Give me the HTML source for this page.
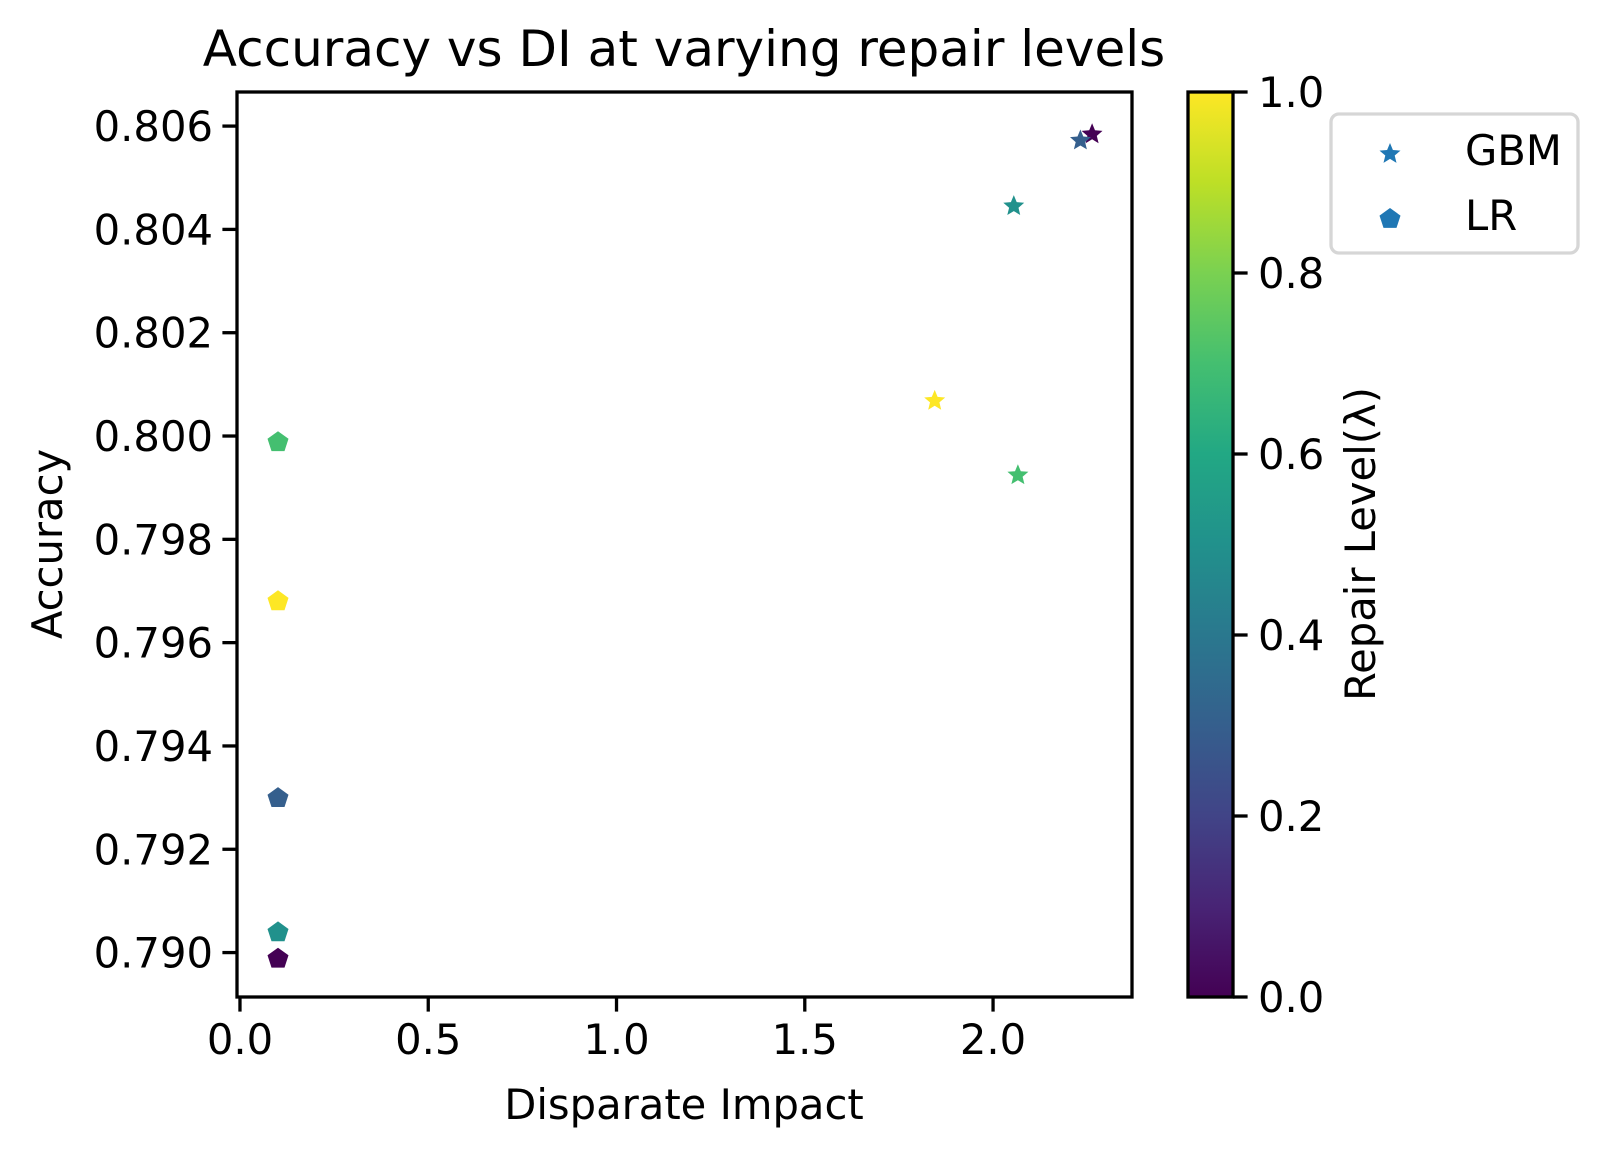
<!DOCTYPE html>
<html><head><meta charset="utf-8"><style>
html,body{margin:0;padding:0;background:#fff;}
svg{display:block;font-family:"DejaVu Sans","Liberation Sans",sans-serif;}
</style></head><body>
<svg id="chart" width="1606" height="1158" viewBox="0 0 1606 1158" xmlns="http://www.w3.org/2000/svg">
<defs>
<linearGradient id="vir" x1="0" y1="1" x2="0" y2="0">
<stop offset="0" stop-color="#440154"/><stop offset="0.1" stop-color="#482475"/><stop offset="0.2" stop-color="#414487"/><stop offset="0.3" stop-color="#355f8d"/><stop offset="0.4" stop-color="#2a788e"/><stop offset="0.5" stop-color="#21918c"/><stop offset="0.6" stop-color="#22a884"/><stop offset="0.7" stop-color="#44bf70"/><stop offset="0.8" stop-color="#7ad151"/><stop offset="0.9" stop-color="#bddf26"/><stop offset="1" stop-color="#fde725"/>
</linearGradient>
</defs>
<text x="684" y="66" font-size="50" text-anchor="middle">Accuracy vs DI at varying repair levels</text>
<g id="plot"></g>
<rect x="237" y="92" width="895" height="905" fill="none" stroke="#000" stroke-width="3.3"/>
<text x="684" y="1119" font-size="41.7" text-anchor="middle">Disparate Impact</text>
<text transform="translate(62,544) rotate(-90)" font-size="41.7" text-anchor="middle">Accuracy</text>
<rect x="1188" y="92" width="45" height="905" fill="url(#vir)" stroke="#000" stroke-width="3.3"/>
<g id="cbticks"></g>
<text transform="translate(1375,544) rotate(-90)" font-size="41.7" text-anchor="middle">Repair Level(λ)</text>
<g>
<rect x="1331" y="114" width="247" height="139" rx="8" fill="#fff" stroke="#d6d6d6" stroke-width="3.3"/>
<polygon id="lgstar" fill="#1f77b4"/>
<text x="1465" y="165" font-size="41.7">GBM</text>
<polygon id="lgpent" fill="#1f77b4"/>
<text x="1465" y="230" font-size="41.7">LR</text>
</g>
</svg>
<script>
const gbmDI = [2.263, 2.232, 2.055, 2.066, 1.845];
const gbmAcc = [0.80586, 0.80574, 0.80447, 0.79926, 0.80070];
const gbmLambda = [0, 0.3, 0.5, 0.7, 1.0];
const lrDI = [0.101, 0.101, 0.101, 0.101, 0.101];
const lrAcc = [0.78990, 0.79301, 0.79041, 0.79990, 0.79682];
const lrLambda = [0, 0.3, 0.5, 0.7, 1.0];
const xTicks = [0.0, 0.5, 1.0, 1.5, 2.0];
const xTickLabels = ["0.0", "0.5", "1.0", "1.5", "2.0"];
const yTicks = [0.790, 0.792, 0.794, 0.796, 0.798, 0.800, 0.802, 0.804, 0.806];
const yTickLabels = ["0.790", "0.792", "0.794", "0.796", "0.798", "0.800", "0.802", "0.804", "0.806"];
const cTicks = [0, 0.2, 0.4, 0.6, 0.8, 1.0];
const cTickLabels = ["0.0", "0.2", "0.4", "0.6", "0.8", "1.0"];

const NS = "http://www.w3.org/2000/svg";
const X0 = 237, X1 = 1132, Y0 = 92, Y1 = 997;
const xMin = -0.0079, xMax = 2.369, yMin = 0.78914, yMax = 0.80666;
function xs(v){ return X0 + (v - xMin) / (xMax - xMin) * (X1 - X0); }
function ys(v){ return Y1 - (v - yMin) / (yMax - yMin) * (Y1 - Y0); }
function cs(v){ return Y1 - v * (Y1 - Y0); }
const vstops = ["#440154","#482475","#414487","#355f8d","#2a788e","#21918c","#22a884","#44bf70","#7ad151","#bddf26","#fde725"];
function hex(c){ return [1,3,5].map(i=>parseInt(c.substr(i,2),16)); }
function viridis(t){
  t = Math.max(0, Math.min(1, t));
  const p = t * 10, i = Math.min(9, Math.floor(p)), f = p - i;
  const a = hex(vstops[i]), b = hex(vstops[i+1]);
  return "rgb(" + a.map((v,k)=>Math.round(v + (b[k]-v)*f)).join(",") + ")";
}
function starPts(cx, cy, R){
  const r = R * 0.45, pts = [];
  for (let k = 0; k < 10; k++){
    const ang = -Math.PI/2 + k * Math.PI/5, rr = k % 2 ? r : R;
    pts.push((cx + rr*Math.cos(ang)).toFixed(1) + "," + (cy + rr*Math.sin(ang)).toFixed(1));
  }
  return pts.join(" ");
}
function pentPts(cx, cy, R){
  const pts = [];
  for (let k = 0; k < 5; k++){
    const ang = -Math.PI/2 + k * 2*Math.PI/5;
    pts.push((cx + R*Math.cos(ang)).toFixed(1) + "," + (cy + R*Math.sin(ang)).toFixed(1));
  }
  return pts.join(" ");
}
const plot = document.getElementById("plot");
function add(parent, tag, attrs){
  const el = document.createElementNS(NS, tag);
  for (const k in attrs) el.setAttribute(k, attrs[k]);
  parent.appendChild(el);
  return el;
}
xTicks.forEach((v, i) => {
  const x = xs(v);
  const t = add(plot, "line", {x1:x, y1:Y1, x2:x, y2:Y1+14.6, stroke:"#000", "stroke-width":3.3});
  
  
  const l = add(plot, "text", {x:x, y:Y1+57, "font-size":41.7, "text-anchor":"middle"});
  l.textContent = xTickLabels[i];
  
  
});
yTicks.forEach((v, i) => {
  const y = ys(v);
  const t = add(plot, "line", {x1:X0-14.6, y1:y, x2:X0, y2:y, stroke:"#000", "stroke-width":3.3});
  
  
  const l = add(plot, "text", {x:X0-24, y:y+15, "font-size":41.7, "text-anchor":"end"});
  l.textContent = yTickLabels[i];
  
  
});
lrDI.forEach((v, i) => {
  const p = add(plot, "polygon", {points: pentPts(xs(v), ys(lrAcc[i]) + 1, 11), fill: viridis(lrLambda[i])});
  
  
});
gbmDI.forEach((v, i) => {
  const p = add(plot, "polygon", {points: starPts(xs(v), ys(gbmAcc[i]) + 1, 11), fill: viridis(gbmLambda[i])});
  
  
});
const cb = document.getElementById("cbticks");
cTicks.forEach((v, i) => {
  const y = cs(v);
  const t = add(cb, "line", {x1:1233, y1:y, x2:1247.6, y2:y, stroke:"#000", "stroke-width":3.3});
  
  
  const l = add(cb, "text", {x:1258, y:y+15, "font-size":41.7});
  l.textContent = cTickLabels[i];
  
  
});
document.getElementById("lgstar").setAttribute("points", starPts(1390, 154, 11));
document.getElementById("lgpent").setAttribute("points", pentPts(1390, 219, 11));
</script>
</body></html>
